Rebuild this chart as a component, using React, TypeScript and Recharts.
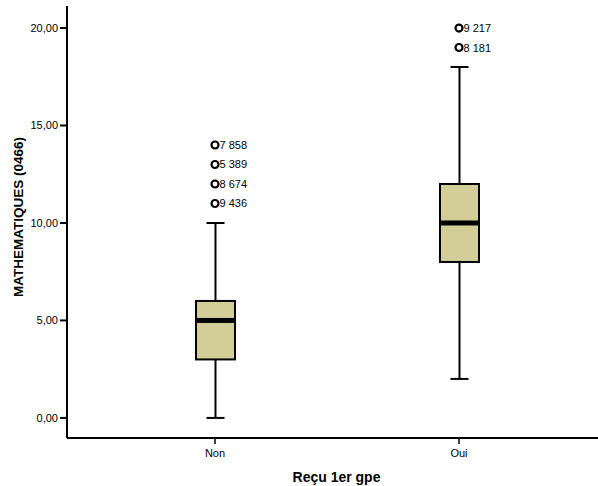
import React from "react";
import {
  ComposedChart,
  Bar,
  Line,
  XAxis,
  YAxis,
  Label,
} from "recharts";

// Boxplot of MATHEMATIQUES (0466) by "Reçu 1er gpe" (SPSS style)
const categories = ["Non", "Oui"];
const whiskerLow = [0, 2];
const quartile1 = [3, 8];
const medians = [5, 10];
const quartile3 = [6, 12];
const whiskerHigh = [10, 18];
const outlierValues = [
  [14, 13, 12, 11],
  [20, 19],
];
const outlierIds = [
  ["7 858", "5 389", "8 674", "9 436"],
  ["9 217", "8 181"],
];
const yTicks = [0, 5, 10, 15, 20];

const FONT = "Arial, 'Liberation Sans', sans-serif";
const BOX_FILL = "#d3ce97";
const MAX_OUTLIERS = 4;

interface Row {
  name: string;
  min: number;
  q1: number;
  median: number;
  q3: number;
  max: number;
  [key: string]: string | number | null;
}

const data: Row[] = categories.map((name, i) => {
  const row: Row = {
    name,
    min: whiskerLow[i],
    q1: quartile1[i],
    median: medians[i],
    q3: quartile3[i],
    max: whiskerHigh[i],
  };
  for (let j = 0; j < MAX_OUTLIERS; j++) {
    row[`o${j}`] = outlierValues[i][j] ?? null;
    row[`id${j}`] = outlierIds[i][j] ?? null;
  }
  return row;
});

const formatTick = (v: number) => v.toFixed(2).replace(".", ",");

// the bar spans min..max, the rest is placed on the same scale
function BoxShape(props: any) {
  const { x, y, width, height, payload } = props;
  if (payload == null || height == null) return null;
  const lo = payload.min;
  const hi = payload.max;
  const toPx = (v: number) => y + (height * (hi - v)) / (hi - lo);
  const cx = x + width / 2;
  const capHalf = 9;
  const yMin = toPx(lo);
  const yMax = toPx(hi);
  const yQ1 = toPx(payload.q1);
  const yQ3 = toPx(payload.q3);
  const yMed = toPx(payload.median);
  return (
    <g>
      <line x1={cx} x2={cx} y1={yMax} y2={yMin} stroke="#000" strokeWidth={2} />
      <line x1={cx - capHalf} x2={cx + capHalf} y1={yMax} y2={yMax} stroke="#000" strokeWidth={2} />
      <line x1={cx - capHalf} x2={cx + capHalf} y1={yMin} y2={yMin} stroke="#000" strokeWidth={2} />
      <rect
        x={x}
        y={yQ3}
        width={width}
        height={yQ1 - yQ3}
        fill={BOX_FILL}
        stroke="#000"
        strokeWidth={2}
      />
      <rect x={x} y={yMed - 2.5} width={width} height={5} fill="#000" />
    </g>
  );
}

function makeOutlierDot(j: number) {
  return (props: any) => {
    const { cx, cy, payload, index } = props;
    const k = `out-${j}-${index}`;
    if (cy == null || isNaN(cy) || payload[`o${j}`] == null) return <g key={k} />;
    return (
      <g key={k}>
        <circle cx={cx} cy={cy} r={3.5} fill="#fff" stroke="#000" strokeWidth={2.2} />
        <text
          x={cx + 4.5}
          y={cy + 4}
          fontSize={11}
          fontFamily={FONT}
          fill="#000"
        >
          {payload[`id${j}`]}
        </text>
      </g>
    );
  };
}

const YTitle = (props: any) => {
  const { viewBox } = props;
  const cy = viewBox.y + viewBox.height / 2 - 5;
  return (
    <text
      transform={`translate(22.5, ${cy}) rotate(-90)`}
      textAnchor="middle"
      fontSize={13.5}
      fontWeight="bold"
      fontFamily={FONT}
      fill="#000"
    >
      MATHEMATIQUES (0466)
    </text>
  );
};

export default function App() {
  return (
    <div style={{ position: "absolute", left: 0, top: 0, background: "#fff" }}>
      <ComposedChart
        width={598}
        height={486}
        data={data}
        margin={{ top: 6, right: 0, bottom: 0, left: 0 }}
      >
        <XAxis
          xAxisId="top"
          orientation="top"
          dataKey="name"
          height={0}
          tick={false}
          tickLine={false}
          axisLine={{ stroke: "#000", strokeWidth: 2 }}
        />
        <XAxis
          dataKey="name"
          type="category"
          height={48}
          padding={{ left: 26, right: 17 }}
          axisLine={{ stroke: "#000", strokeWidth: 2 }}
          tickLine={{ stroke: "#000", strokeWidth: 1.5 }}
          tickSize={6}
          tickMargin={5}
          tick={{ fill: "#000", fontSize: 11, fontFamily: FONT }}
        >
          <Label
            value="Reçu 1er gpe"
            position="insideBottom"
            offset={4}
            dx={4}
            style={{ fontSize: 14, fontWeight: "bold", fontFamily: FONT, fill: "#000" }}
          />
        </XAxis>
        <YAxis
          type="number"
          width={67}
          domain={[-1.03, 21.13]}
          ticks={yTicks}
          tickFormatter={formatTick}
          axisLine={{ stroke: "#000", strokeWidth: 2 }}
          tickLine={{ stroke: "#000", strokeWidth: 2 }}
          tickSize={7}
          tickMargin={2}
          tick={{ fill: "#000", fontSize: 11, fontFamily: FONT }}
          allowDataOverflow
        >
          <Label content={<YTitle />} />
        </YAxis>
        <Bar
          dataKey={(d: Row) => [d.min, d.max]}
          barSize={39}
          shape={<BoxShape />}
          isAnimationActive={false}
          legendType="none"
        />
        {Array.from({ length: MAX_OUTLIERS }, (_, j) => (
          <Line
            key={j}
            dataKey={`o${j}`}
            stroke="none"
            dot={makeOutlierDot(j)}
            activeDot={false}
            isAnimationActive={false}
            legendType="none"
          />
        ))}
      </ComposedChart>
    </div>
  );
}
